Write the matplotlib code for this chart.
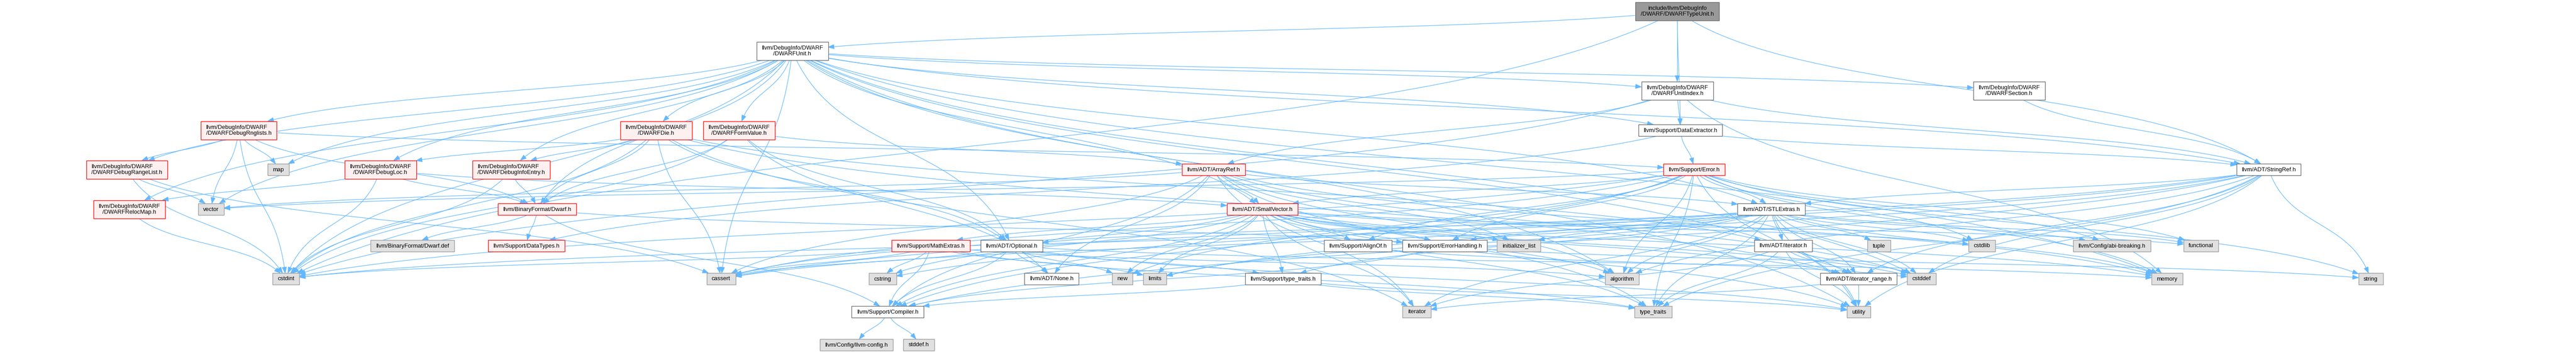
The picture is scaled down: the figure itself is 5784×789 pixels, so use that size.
import numpy as np
import matplotlib
matplotlib.use("Agg")
import matplotlib.pyplot as plt
from matplotlib.patches import Rectangle, Polygon

plt.rcParams['font.family'] = ['Liberation Sans', 'DejaVu Sans']

W, H = 5784, 789
DPI = 100

# Node labels and kinds (root / red = truncated / white / grey = system header)
labels = {
    "typeunit": "include/llvm/DebugInfo\n/DWARF/DWARFTypeUnit.h",
    "unit": "llvm/DebugInfo/DWARF\n/DWARFUnit.h",
    "unitindex": "llvm/DebugInfo/DWARF\n/DWARFUnitIndex.h",
    "section": "llvm/DebugInfo/DWARF\n/DWARFSection.h",
    "rnglists": "llvm/DebugInfo/DWARF\n/DWARFDebugRnglists.h",
    "die": "llvm/DebugInfo/DWARF\n/DWARFDie.h",
    "formvalue": "llvm/DebugInfo/DWARF\n/DWARFFormValue.h",
    "dataextractor": "llvm/Support/DataExtractor.h",
    "rangelist": "llvm/DebugInfo/DWARF\n/DWARFDebugRangeList.h",
    "map": "map",
    "debugloc": "llvm/DebugInfo/DWARF\n/DWARFDebugLoc.h",
    "infoentry": "llvm/DebugInfo/DWARF\n/DWARFDebugInfoEntry.h",
    "arrayref": "llvm/ADT/ArrayRef.h",
    "error": "llvm/Support/Error.h",
    "stringref": "llvm/ADT/StringRef.h",
    "relocmap": "llvm/DebugInfo/DWARF\n/DWARFRelocMap.h",
    "vector": "vector",
    "dwarf_h": "llvm/BinaryFormat/Dwarf.h",
    "smallvector": "llvm/ADT/SmallVector.h",
    "stlextras": "llvm/ADT/STLExtras.h",
    "dwarf_def": "llvm/BinaryFormat/Dwarf.def",
    "datatypes": "llvm/Support/DataTypes.h",
    "mathextras": "llvm/Support/MathExtras.h",
    "optional": "llvm/ADT/Optional.h",
    "alignof": "llvm/Support/AlignOf.h",
    "errorhandling": "llvm/Support/ErrorHandling.h",
    "initializer_list": "initializer_list",
    "iterator_h": "llvm/ADT/iterator.h",
    "tuple": "tuple",
    "cstdlib": "cstdlib",
    "abi_breaking": "llvm/Config/abi-breaking.h",
    "functional": "functional",
    "cstdint": "cstdint",
    "cassert": "cassert",
    "cstring": "cstring",
    "none": "llvm/ADT/None.h",
    "new": "new",
    "limits": "limits",
    "type_traits_h": "llvm/Support/type_traits.h",
    "algorithm": "algorithm",
    "iterator_range": "llvm/ADT/iterator_range.h",
    "cstddef": "cstddef",
    "memory": "memory",
    "string": "string",
    "compiler": "llvm/Support/Compiler.h",
    "iterator": "iterator",
    "type_traits": "type_traits",
    "utility": "utility",
    "llvm_config": "llvm/Config/llvm-config.h",
    "stddef": "stddef.h",
}

red_nodes = ["rnglists", "die", "formvalue", "rangelist", "debugloc", "infoentry",
             "arrayref", "error", "relocmap", "dwarf_h", "smallvector",
             "datatypes", "mathextras"]
white_nodes = ["unit", "unitindex", "section", "dataextractor", "stringref",
               "stlextras", "optional", "alignof", "errorhandling", "iterator_h",
               "none", "type_traits_h", "iterator_range", "compiler"]
root_node = "typeunit"

# include edges (source includes target)
edges = [
    ("typeunit", "unit"), ("typeunit", "unitindex"), ("typeunit", "dataextractor"),
    ("typeunit", "stringref"), ("typeunit", "cstdint"),
    ("unit", "optional"), ("unit", "stlextras"), ("unit", "smallvector"),
    ("unit", "stringref"), ("unit", "iterator_range"), ("unit", "dwarf_h"),
    ("unit", "infoentry"), ("unit", "rangelist"), ("unit", "rnglists"),
    ("unit", "die"), ("unit", "formvalue"), ("unit", "debugloc"),
    ("unit", "relocmap"), ("unit", "section"), ("unit", "unitindex"),
    ("unit", "dataextractor"), ("unit", "algorithm"), ("unit", "cassert"),
    ("unit", "cstddef"), ("unit", "cstdint"), ("unit", "map"),
    ("unit", "memory"), ("unit", "utility"), ("unit", "vector"),
    ("unitindex", "arrayref"), ("unitindex", "stringref"),
    ("unitindex", "dataextractor"), ("unitindex", "cstdint"), ("unitindex", "memory"),
    ("section", "stringref"),
    ("rnglists", "dwarf_h"), ("rnglists", "rangelist"), ("rnglists", "map"),
    ("rnglists", "vector"), ("rnglists", "cstdint"), ("rnglists", "error"),
    ("die", "optional"), ("die", "iterator_h"), ("die", "iterator_range"),
    ("die", "dwarf_h"), ("die", "infoentry"), ("die", "debugloc"),
    ("die", "cassert"), ("die", "cstdint"), ("die", "iterator"),
    ("formvalue", "arrayref"), ("formvalue", "none"), ("formvalue", "optional"),
    ("formvalue", "dwarf_h"), ("formvalue", "cstdint"),
    ("dataextractor", "stringref"), ("dataextractor", "datatypes"),
    ("dataextractor", "error"),
    ("rangelist", "cassert"), ("rangelist", "cstdint"), ("rangelist", "vector"),
    ("debugloc", "smallvector"), ("debugloc", "dwarf_h"), ("debugloc", "relocmap"),
    ("debugloc", "cstdint"),
    ("infoentry", "dwarf_h"), ("infoentry", "cstdint"),
    ("arrayref", "none"), ("arrayref", "smallvector"), ("arrayref", "stlextras"),
    ("arrayref", "compiler"), ("arrayref", "algorithm"), ("arrayref", "cassert"),
    ("arrayref", "cstddef"), ("arrayref", "initializer_list"),
    ("arrayref", "iterator"), ("arrayref", "memory"), ("arrayref", "type_traits"),
    ("arrayref", "vector"),
    ("error", "abi_breaking"), ("error", "stlextras"), ("error", "smallvector"),
    ("error", "alignof"), ("error", "compiler"), ("error", "errorhandling"),
    ("error", "algorithm"), ("error", "cassert"), ("error", "cstdint"),
    ("error", "cstdlib"), ("error", "functional"), ("error", "memory"),
    ("error", "new"), ("error", "string"), ("error", "type_traits"),
    ("error", "utility"), ("error", "vector"),
    ("stringref", "stlextras"), ("stringref", "iterator_range"),
    ("stringref", "compiler"), ("stringref", "algorithm"), ("stringref", "cassert"),
    ("stringref", "cstddef"), ("stringref", "cstring"), ("stringref", "limits"),
    ("stringref", "string"), ("stringref", "type_traits"), ("stringref", "utility"),
    ("relocmap", "cstdint"),
    ("dwarf_h", "dwarf_def"), ("dwarf_h", "datatypes"), ("dwarf_h", "compiler"),
    ("dwarf_h", "errorhandling"),
    ("smallvector", "iterator_range"), ("smallvector", "alignof"),
    ("smallvector", "compiler"), ("smallvector", "mathextras"),
    ("smallvector", "type_traits_h"), ("smallvector", "errorhandling"),
    ("smallvector", "algorithm"), ("smallvector", "cassert"),
    ("smallvector", "cstddef"), ("smallvector", "cstdlib"),
    ("smallvector", "cstring"), ("smallvector", "functional"),
    ("smallvector", "initializer_list"), ("smallvector", "iterator"),
    ("smallvector", "limits"), ("smallvector", "memory"), ("smallvector", "new"),
    ("smallvector", "type_traits"), ("smallvector", "utility"),
    ("stlextras", "optional"), ("stlextras", "iterator_h"),
    ("stlextras", "iterator_range"), ("stlextras", "abi_breaking"),
    ("stlextras", "errorhandling"), ("stlextras", "type_traits_h"),
    ("stlextras", "algorithm"), ("stlextras", "cassert"), ("stlextras", "cstddef"),
    ("stlextras", "cstdint"), ("stlextras", "cstdlib"), ("stlextras", "functional"),
    ("stlextras", "initializer_list"), ("stlextras", "iterator"),
    ("stlextras", "limits"), ("stlextras", "memory"), ("stlextras", "tuple"),
    ("stlextras", "type_traits"), ("stlextras", "utility"),
    ("mathextras", "compiler"), ("mathextras", "algorithm"),
    ("mathextras", "cassert"), ("mathextras", "cstdint"),
    ("mathextras", "cstring"), ("mathextras", "limits"),
    ("mathextras", "type_traits"),
    ("optional", "none"), ("optional", "compiler"), ("optional", "type_traits_h"),
    ("optional", "cassert"), ("optional", "memory"), ("optional", "new"),
    ("optional", "utility"),
    ("alignof", "cstddef"),
    ("errorhandling", "compiler"), ("errorhandling", "string"),
    ("iterator_h", "iterator_range"), ("iterator_h", "cstddef"),
    ("iterator_h", "iterator"), ("iterator_h", "type_traits"),
    ("iterator_h", "utility"),
    ("iterator_range", "iterator"), ("iterator_range", "utility"),
    ("type_traits_h", "compiler"), ("type_traits_h", "type_traits"),
    ("type_traits_h", "utility"),
    ("compiler", "llvm_config"), ("compiler", "stddef"),
]

# ---- layout (pixel positions of the rendered graph) ----
rank_y = [25, 114, 203, 292, 380, 469, 551, 625, 699, 773]
layout = {
    "typeunit": (3766, 0), "unit": (1779, 1), "unitindex": (3766, 2),
    "section": (4511, 2), "rnglists": (536, 3), "die": (1473, 3),
    "formvalue": (1659, 3), "dataextractor": (3773, 3), "rangelist": (285, 4),
    "map": (625, 4), "debugloc": (854, 4), "infoentry": (1148, 4),
    "arrayref": (2725, 4), "error": (3804, 4), "stringref": (5094, 4),
    "relocmap": (290, 5), "vector": (474, 5), "dwarf_h": (1206, 5),
    "smallvector": (2834, 5), "stlextras": (3977, 5), "dwarf_def": (926, 6),
    "datatypes": (1182, 6), "mathextras": (2090, 6), "optional": (2271, 6),
    "alignof": (3049, 6), "errorhandling": (3244, 6),
    "initializer_list": (3410, 6), "iterator_h": (4004, 6), "tuple": (4219, 6),
    "cstdlib": (4450, 6), "abi_breaking": (4742, 6), "functional": (4942, 6),
    "cstdint": (642, 7), "cassert": (1619, 7), "cstring": (1982, 7),
    "none": (2361, 7), "new": (2520, 7), "limits": (2593, 7),
    "type_traits_h": (2881, 7), "algorithm": (3642, 7),
    "iterator_range": (4173, 7), "cstddef": (4314, 7), "memory": (4866, 7),
    "string": (5323, 7), "compiler": (1993, 8), "iterator": (3181, 8),
    "type_traits": (3712, 8), "utility": (4173, 8), "llvm_config": (1923, 9),
    "stddef": (2063, 9),
}

EDGE = "#63B8FF"
FONT_PT = 9.36
PAD_X = 11.5

fig = plt.figure(figsize=(W / DPI, H / DPI), dpi=DPI)
ax = fig.add_axes([0, 0, 1, 1])
ax.set_xlim(0, W)
ax.set_ylim(H, 0)
ax.axis("off")
renderer = fig.canvas.get_renderer()

# place labels and measure them to size the boxes
boxes = {}
for key, text in labels.items():
    cx, r = layout[key]
    cy = rank_y[r]
    lines = text.split("\n")
    align = "left" if len(lines) == 2 and len(lines[1]) > len(lines[0]) else "center"
    t = ax.text(cx, cy + 0.5, text, ha="center", va="center", fontsize=FONT_PT,
                multialignment=align, color="black", zorder=5, linespacing=1.15)
    bb = t.get_window_extent(renderer)
    bw = bb.width + 2 * PAD_X
    bh = 41 if len(lines) == 2 else 26
    boxes[key] = (cx, cy, bw, bh)

    if key == root_node:
        fc, ec = "#999999", "#666666"
    elif key in red_nodes:
        fc, ec = "#FFF0F0", "#FF0000"
    elif key in white_nodes:
        fc, ec = "white", "#666666"
    else:
        fc, ec = "#E0E0E0", "#999999"
    ax.add_patch(Rectangle((cx - bw / 2, cy - bh / 2), bw, bh, facecolor=fc,
                           edgecolor=ec, linewidth=1.0, zorder=4))


def bezier(P, t):
    t = np.asarray(t)[:, None]
    return ((1 - t) ** 3 * P[0] + 3 * (1 - t) ** 2 * t * P[1]
            + 3 * (1 - t) * t ** 2 * P[2] + t ** 3 * P[3])


def inside(pts, box, m=0.0):
    cx, cy, bw, bh = box
    return (np.abs(pts[:, 0] - cx) <= bw / 2 + m) & (np.abs(pts[:, 1] - cy) <= bh / 2 + m)


ts = np.linspace(0, 1, 800)
for src, dst in edges:
    sb, db = boxes[src], boxes[dst]
    P0 = np.array([sb[0], sb[1]])
    P3 = np.array([db[0], db[1]])
    dx, dy = P3 - P0
    P1 = P0 + np.array([0.2 * dx, 0.55 * dy])
    P2 = P3 - np.array([0.2 * dx, 0.55 * dy])
    P = [P0, P1, P2, P3]
    pts = bezier(P, ts)
    in_s = inside(pts, sb)
    in_d = inside(pts, db)
    i0 = np.argmax(~in_s)
    i1 = np.argmax(in_d)
    # refine the tip on the target border
    lo, hi = ts[i1 - 1], ts[i1]
    for _ in range(30):
        mid = 0.5 * (lo + hi)
        if inside(bezier(P, [mid]), db)[0]:
            hi = mid
        else:
            lo = mid
    tip = bezier(P, [lo])[0]
    seg = pts[i0:i1]
    dist = np.hypot(seg[:, 0] - tip[0], seg[:, 1] - tip[1])
    keep = seg[dist > 12]
    if len(keep) < 2:
        keep = np.vstack([bezier(P, [ts[i0]])[0], tip])
    d = tip - keep[-1]
    d = d / np.hypot(*d)
    base = tip - 13 * d
    line = np.vstack([keep, base])
    ax.plot(line[:, 0], line[:, 1], color=EDGE, lw=0.9, zorder=1,
            solid_capstyle="butt")
    nrm = np.array([-d[1], d[0]])
    tri = np.array([tip, base + 4.7 * nrm, base - 4.7 * nrm])
    ax.add_patch(Polygon(tri, closed=True, facecolor=EDGE, edgecolor=EDGE,
                         lw=0.8, zorder=2))

fig.savefig("out.png", dpi=DPI)
